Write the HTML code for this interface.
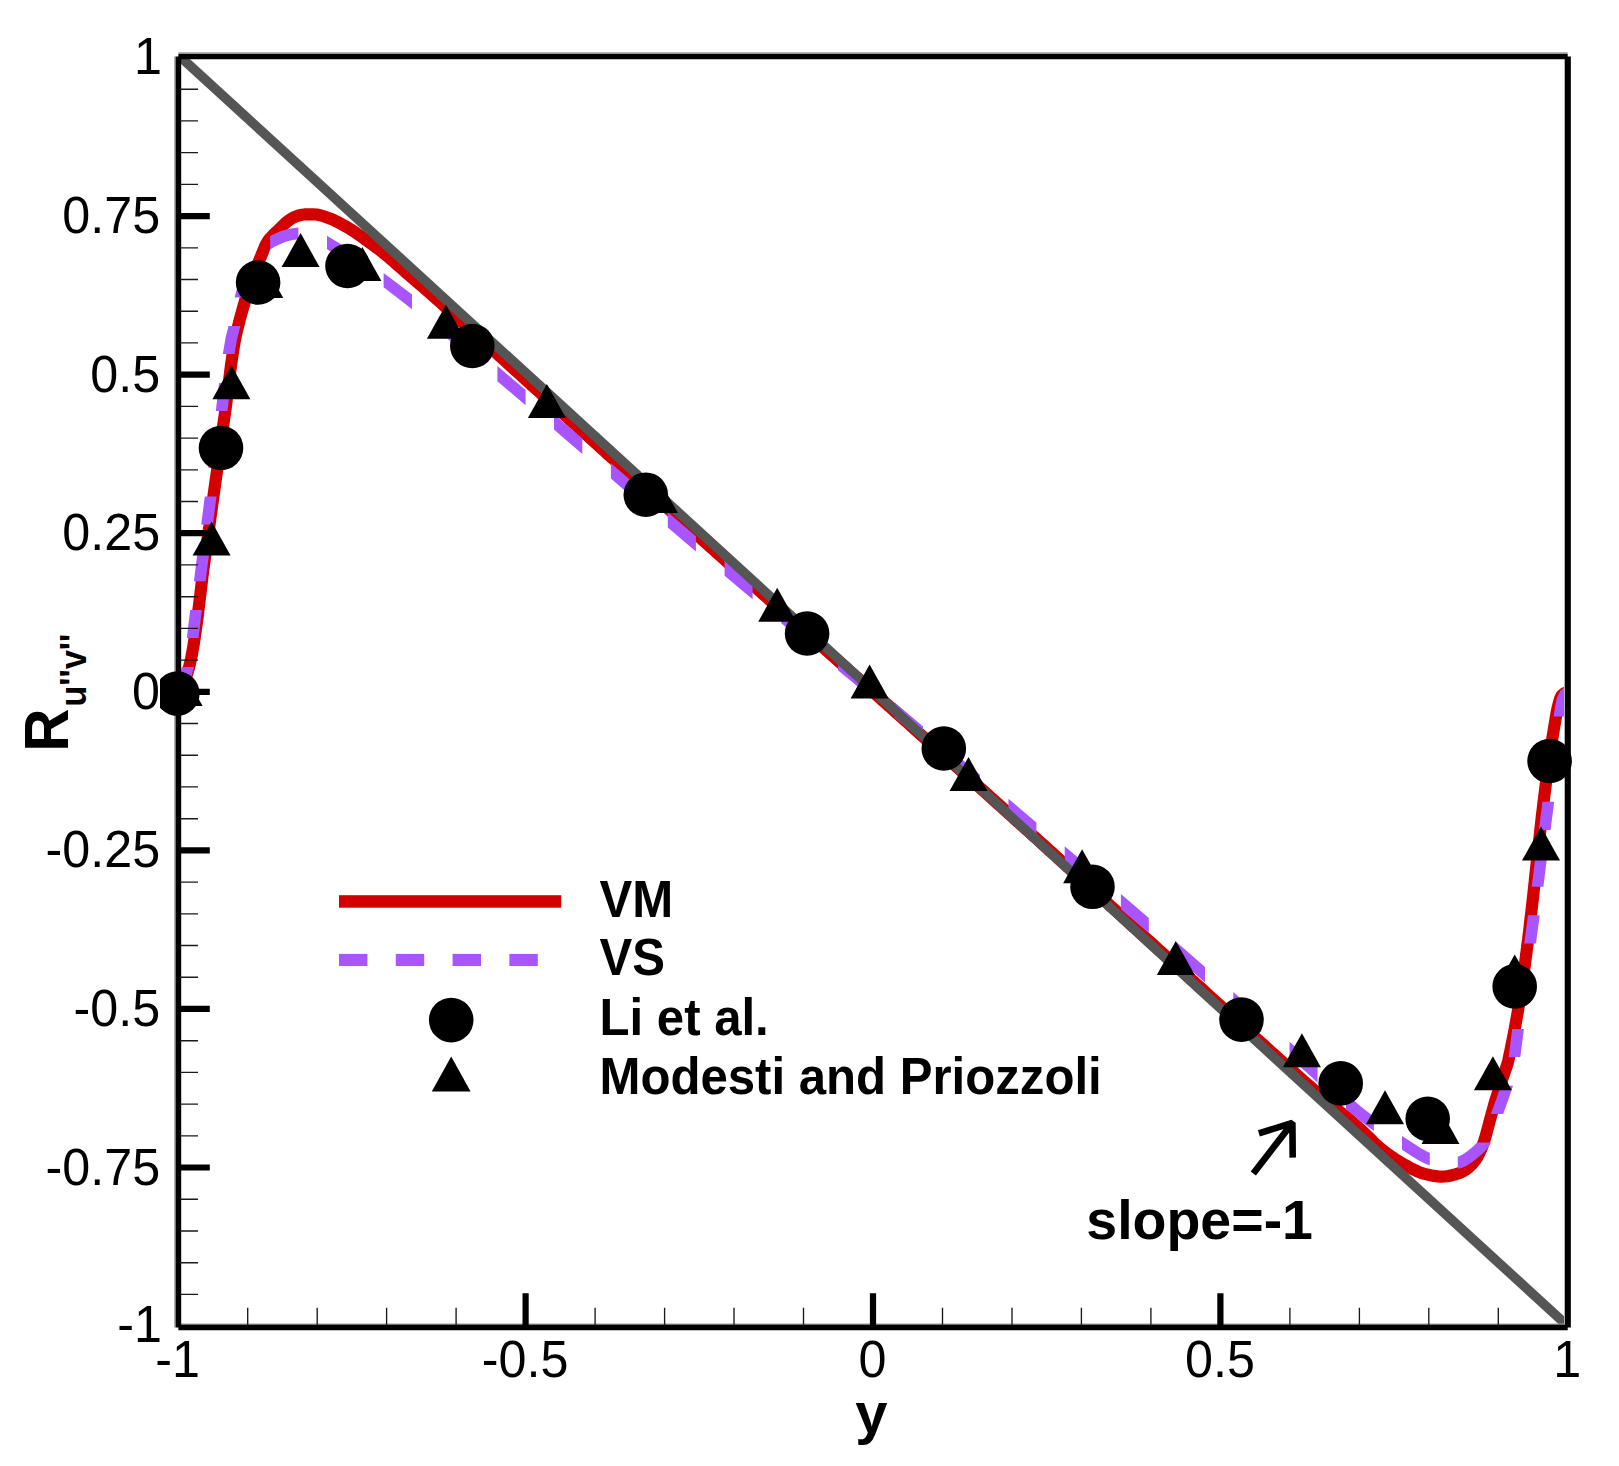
<!DOCTYPE html>
<html lang="en"><head><meta charset="utf-8"><title>R u''v'' vs y</title>
<style>html,body{margin:0;padding:0;background:#fff;overflow:hidden}svg{display:block}text{font-family:"Liberation Sans",Arial,Helvetica,sans-serif;fill:#000}.b{font-weight:700}</style></head><body>
<svg width="1619" height="1466" viewBox="0 0 1619 1466">
<rect width="1619" height="1466" fill="#fff"/>
<defs><clipPath id="m"><rect x="159.9" y="0" width="1500" height="1466"/></clipPath><clipPath id="c"><rect x="178.4" y="56.5" width="1389.2" height="1271"/></clipPath></defs>
<g clip-path="url(#c)">
<path d="M178.3 691.8 L180.9 689.1 L182.9 686.2 L184.3 683 L185.4 679.5 L186.4 676 L187.5 672.5 L188.5 669 L189.5 665.5 L190.3 662 L191.1 658.5 L191.8 655 L192.4 651.4 L193.1 647.9 L193.7 644.3 L194.2 640.8 L194.8 637.2 L195.3 633.6 L195.8 630.1 L196.3 626.5 L196.8 622.9 L197.3 619.3 L197.8 615.7 L198.2 612.1 L198.6 608.5 L199.1 604.9 L199.5 601.3 L199.9 597.7 L200.4 594.1 L200.8 590.5 L201.2 586.9 L201.6 583.3 L202.1 579.7 L202.5 576.1 L203 572.6 L203.4 569 L203.9 565.4 L204.4 561.8 L204.9 558.2 L205.4 554.6 L205.9 551 L206.4 547.5 L206.9 543.9 L207.4 540.3 L207.9 536.7 L208.4 533.1 L208.9 529.6 L209.4 526 L209.8 522.4 L210.3 518.8 L210.8 515.2 L211.3 511.7 L211.8 508.1 L212.3 504.5 L212.8 500.9 L213.3 497.3 L213.8 493.7 L214.3 490.2 L214.8 486.6 L215.3 483 L215.8 479.4 L216.3 475.8 L216.8 472.3 L217.3 468.7 L217.8 465.1 L218.3 461.5 L218.8 457.9 L219.3 454.4 L219.8 450.8 L220.3 447.2 L220.8 443.6 L221.3 440 L221.8 436.5 L222.3 432.9 L222.7 429.3 L223.2 425.7 L223.7 422.1 L224.2 418.5 L224.7 415 L225.2 411.4 L225.7 407.8 L226.2 404.2 L226.6 400.6 L227.1 397 L227.5 393.4 L227.9 389.8 L228.4 386.2 L228.8 382.6 L229.3 379.1 L229.7 375.5 L230.2 371.9 L230.6 368.3 L231.1 364.7 L231.6 361.1 L232.1 357.5 L232.7 354 L233.2 350.4 L233.8 346.8 L234.4 343.3 L235 339.7 L235.7 336.2 L236.5 332.7 L237.4 329.2 L238.3 325.6 L239.2 322.1 L240 318.6 L241 315.1 L241.9 311.7 L242.9 308.2 L243.9 304.7 L244.9 301.2 L245.9 297.8 L247 294.3 L248.1 290.8 L249.2 287.4 L250.3 284 L251.5 280.6 L252.7 277.2 L254 273.8 L255.3 270.4 L256.6 267 L258 263.7 L259.3 260.3 L260.7 257 L262.1 253.6 L263.4 250.2 L264.8 246.8 L266.4 243.6 L268.2 240.6 L270.4 237.9 L273 235.2 L275.6 232.7 L278.3 230.2 L280.9 227.6 L283.5 225 L286.1 222.5 L288.9 220.3 L291.9 218.4 L295.2 216.7 L298.6 215.5 L302.1 214.7 L305.7 214.3 L309.4 214.3 L313 214.4 L316.5 214.5 L320.1 215.2 L323.6 216.3 L327.1 217.5 L330.4 218.7 L333.8 220.1 L337 221.7 L340.2 223.4 L343.4 225.1 L346.6 226.9 L349.7 228.8 L352.7 230.7 L355.8 232.7 L358.7 234.7 L361.7 236.8 L364.6 239 L367.5 241.1 L370.5 243.2 L373.4 245.3 L376.3 247.5 L379.2 249.6 L382 251.9 L384.8 254.1 L387.6 256.4 L390.4 258.7 L393.2 261.1 L395.8 263.5 L398.5 265.9 L401.2 268.3 L404 270.7 L406.7 273.1 L409.4 275.4 L412.2 277.8 L414.9 280.1 L417.7 282.5 L420.4 284.8 L423.2 287.2 L425.9 289.6 L428.6 292 L431.3 294.3 L434 296.7 L436.7 299.1 L439.4 301.5 L442.1 303.9 L444.8 306.4 L447.5 308.8 L450.2 311.2 L452.9 313.6 L455.6 316 L458.3 318.5 L460.9 320.9 L463.6 323.3 L466.3 325.7 L469 328.2 L471.7 330.6 L474.4 333 L477 335.4 L479.7 337.9 L482.4 340.3 L485.1 342.7 L487.7 345.1 L490.4 347.6 L493.1 350 L495.8 352.4 L498.5 354.9 L501.1 357.3 L503.8 359.7 L506.5 362.2 L509.2 364.6 L511.8 367 L514.5 369.5 L517.2 371.9 L519.9 374.3 L522.5 376.7 L525.2 379.2 L527.9 381.6 L530.6 384 L533.2 386.5 L535.9 388.9 L538.6 391.3 L541.3 393.8 L544 396.2 L546.6 398.6 L549.3 401 L552 403.5 L554.7 405.9 L557.3 408.3 L560 410.8 L562.7 413.2 L565.4 415.6 L568.1 418 L570.7 420.5 L573.4 422.9 L576.1 425.3 L578.8 427.8 L581.4 430.2 L584.1 432.6 L586.8 435 L589.5 437.5 L592.2 439.9 L594.8 442.3 L597.5 444.7 L600.2 447.2 L602.9 449.6 L605.6 452 L608.2 454.5 L610.9 456.9 L613.6 459.3 L616.3 461.7 L618.9 464.2 L621.6 466.6 L624.3 469 L627 471.5 L629.7 473.9 L632.3 476.3 L635 478.7 L637.7 481.2 L640.4 483.6 L643.1 486 L645.7 488.4 L648.4 490.9 L651.1 493.3 L653.8 495.7 L656.5 498.2 L659.1 500.6 L661.8 503 L664.5 505.4 L667.2 507.9 L669.9 510.3 L672.5 512.7 L675.2 515.1 L677.9 517.6 L680.6 520 L683.3 522.4 L685.9 524.8 L688.6 527.3 L691.3 529.7 L694 532.1 L696.7 534.5 L699.4 536.9 L702.1 539.4 L704.7 541.8 L707.4 544.2 L710.1 546.6 L712.8 549 L715.5 551.5 L718.2 553.9 L720.9 556.3 L723.6 558.7 L726.3 561.1 L728.9 563.5 L731.6 565.9 L734.3 568.4 L737 570.8 L739.7 573.2 L742.4 575.6 L745.1 578 L747.8 580.4 L750.5 582.8 L753.2 585.2 L755.9 587.6 L758.6 590 L761.3 592.4 L764 594.9 L766.7 597.3 L769.4 599.7 L772.1 602.1 L774.8 604.5 L777.5 606.9 L780.2 609.3 L782.9 611.7 L785.6 614.1 L788.3 616.5 L791 618.9 L793.7 621.3 L796.4 623.7 L799.1 626.1 L801.8 628.5 L804.5 630.9 L807.2 633.3 L809.9 635.7 L812.6 638.1 L815.3 640.5 L818 642.9 L820.7 645.3 L823.4 647.7 L826.1 650.1 L828.8 652.5 L831.5 654.9 L834.2 657.3 L836.9 659.7 L839.6 662.1 L842.3 664.5 L845 666.9 L847.7 669.3 L850.4 671.7 L853.1 674.1 L855.8 676.5 L858.5 678.9 L861.2 681.3 L864 683.7 L866.7 686.1 L869.4 688.5 L872 691 L874.7 693.4 L877.4 695.8 L880.1 698.2 L882.8 700.6 L885.5 703 L888.2 705.4 L890.9 707.8 L893.6 710.2 L896.3 712.6 L899 715.1 L901.7 717.5 L904.4 719.9 L907.1 722.3 L909.8 724.7 L912.5 727.1 L915.1 729.5 L917.8 731.9 L920.5 734.4 L923.2 736.8 L925.9 739.2 L928.6 741.6 L931.3 744 L934 746.4 L936.7 748.9 L939.4 751.3 L942 753.7 L944.7 756.1 L947.4 758.5 L950.1 760.9 L952.8 763.3 L955.5 765.8 L958.2 768.2 L960.9 770.6 L963.6 773 L966.3 775.4 L968.9 777.8 L971.6 780.3 L974.3 782.7 L977 785.1 L979.7 787.5 L982.4 789.9 L985.1 792.3 L987.8 794.8 L990.5 797.2 L993.2 799.6 L995.8 802 L998.5 804.4 L1001.2 806.8 L1003.9 809.3 L1006.6 811.7 L1009.3 814.1 L1012 816.5 L1014.6 818.9 L1017.3 821.4 L1020 823.8 L1022.7 826.2 L1025.4 828.6 L1028.1 831 L1030.8 833.5 L1033.4 835.9 L1036.1 838.3 L1038.8 840.7 L1041.5 843.2 L1044.2 845.6 L1046.8 848 L1049.5 850.5 L1052.2 852.9 L1054.9 855.3 L1057.5 857.7 L1060.2 860.2 L1062.9 862.6 L1065.6 865 L1068.2 867.5 L1070.9 869.9 L1073.6 872.3 L1076.3 874.8 L1078.9 877.2 L1081.6 879.6 L1084.3 882.1 L1087 884.5 L1089.6 886.9 L1092.3 889.4 L1095 891.8 L1097.7 894.2 L1100.3 896.7 L1103 899.1 L1105.7 901.5 L1108.4 904 L1111 906.4 L1113.7 908.8 L1116.4 911.3 L1119.1 913.7 L1121.7 916.1 L1124.4 918.6 L1127.1 921 L1129.7 923.4 L1132.4 925.9 L1135.1 928.3 L1137.8 930.7 L1140.4 933.2 L1143.1 935.6 L1145.8 938 L1148.5 940.5 L1151.2 942.9 L1153.8 945.3 L1156.5 947.7 L1159.2 950.2 L1161.9 952.6 L1164.5 955 L1167.2 957.5 L1169.9 959.9 L1172.6 962.3 L1175.2 964.8 L1177.9 967.2 L1180.6 969.6 L1183.3 972.1 L1185.9 974.5 L1188.6 976.9 L1191.3 979.4 L1194 981.8 L1196.6 984.2 L1199.3 986.6 L1202 989.1 L1204.7 991.5 L1207.3 993.9 L1210 996.4 L1212.7 998.8 L1215.4 1001.2 L1218.1 1003.7 L1220.7 1006.1 L1223.4 1008.5 L1226.1 1010.9 L1228.8 1013.4 L1231.4 1015.8 L1234.1 1018.2 L1236.8 1020.7 L1239.5 1023.1 L1242.1 1025.5 L1244.8 1028 L1247.5 1030.4 L1250.2 1032.8 L1252.9 1035.2 L1255.5 1037.7 L1258.2 1040.1 L1260.9 1042.5 L1263.6 1044.9 L1266.3 1047.4 L1268.9 1049.8 L1271.6 1052.2 L1274.3 1054.6 L1277 1057 L1279.7 1059.5 L1282.4 1061.9 L1285.1 1064.3 L1287.8 1066.7 L1290.5 1069.1 L1293.2 1071.5 L1295.8 1074 L1298.5 1076.4 L1301.2 1078.8 L1303.9 1081.2 L1306.7 1083.6 L1309.4 1085.9 L1312.1 1088.3 L1314.8 1090.7 L1317.5 1093.1 L1320.3 1095.4 L1323.1 1097.7 L1325.8 1100.1 L1328.6 1102.4 L1331.4 1104.7 L1334.2 1107 L1337 1109.3 L1339.8 1111.6 L1342.6 1113.9 L1345.4 1116.2 L1348.1 1118.5 L1350.9 1120.8 L1353.6 1123.2 L1356.4 1125.6 L1359.1 1128 L1361.7 1130.4 L1364.3 1132.9 L1366.9 1135.5 L1369.5 1138 L1372 1140.6 L1374.6 1143.2 L1377.3 1145.6 L1380 1148 L1382.7 1150.2 L1385.6 1152.4 L1388.5 1154.6 L1391.5 1156.7 L1394.5 1158.7 L1397.6 1160.6 L1400.7 1162.5 L1403.8 1164.3 L1407 1166 L1410.2 1167.8 L1413.5 1169.5 L1416.8 1171.1 L1420.1 1172.5 L1423.5 1173.6 L1426.9 1174.4 L1430.5 1175.2 L1434.1 1175.9 L1437.7 1176.4 L1441.3 1176.6 L1444.9 1176.5 L1448.5 1176 L1452.1 1175.2 L1455.6 1174.3 L1459 1173.2 L1462.3 1171.7 L1465.5 1169.8 L1468.4 1167.6 L1471 1165.3 L1473.4 1162.5 L1475.7 1159.6 L1477.6 1156.5 L1479.3 1153.4 L1480.8 1150.1 L1482.2 1146.7 L1483.4 1143.3 L1484.5 1139.8 L1485.6 1136.4 L1486.5 1132.9 L1487.5 1129.4 L1488.4 1125.9 L1489.3 1122.4 L1490.3 1118.9 L1491.2 1115.4 L1492.2 1111.9 L1493.1 1108.5 L1494.1 1105 L1495.1 1101.5 L1496.2 1098.1 L1497.3 1094.6 L1498.4 1091.2 L1499.5 1087.7 L1500.6 1084.3 L1501.7 1080.8 L1502.8 1077.4 L1504 1074 L1505.2 1070.5 L1506.4 1067.1 L1507.5 1063.7 L1508.4 1060.2 L1509.1 1056.7 L1509.9 1053.2 L1510.6 1049.7 L1511.3 1046.2 L1512 1042.7 L1512.7 1039.2 L1513.4 1035.7 L1514.1 1032.1 L1514.8 1028.6 L1515.4 1025.1 L1516 1021.6 L1516.7 1018 L1517.3 1014.5 L1517.9 1010.9 L1518.5 1007.4 L1519.1 1003.9 L1519.6 1000.3 L1520.2 996.7 L1520.7 993.2 L1521.3 989.6 L1521.8 986.1 L1522.3 982.5 L1522.9 978.9 L1523.4 975.4 L1523.9 971.8 L1524.4 968.2 L1524.9 964.6 L1525.3 961.1 L1525.8 957.5 L1526.3 953.9 L1526.7 950.3 L1527.2 946.7 L1527.6 943.1 L1528.1 939.5 L1528.5 935.9 L1529 932.3 L1529.4 928.7 L1529.8 925.1 L1530.2 921.5 L1530.6 917.9 L1531.1 914.3 L1531.5 910.7 L1531.9 907.1 L1532.3 903.5 L1532.7 899.9 L1533.1 896.3 L1533.5 892.7 L1533.9 889.1 L1534.3 885.5 L1534.7 881.9 L1535 878.2 L1535.4 874.6 L1535.8 871 L1536.2 867.4 L1536.6 863.8 L1537 860.2 L1537.4 856.6 L1537.8 852.9 L1538.2 849.3 L1538.6 845.7 L1539 842.1 L1539.4 838.5 L1539.8 834.9 L1540.2 831.3 L1540.6 827.7 L1541 824.1 L1541.4 820.4 L1541.8 816.8 L1542.2 813.2 L1542.7 809.6 L1543.1 806 L1543.5 802.4 L1544 798.8 L1544.4 795.2 L1544.9 791.6 L1545.3 788 L1545.8 784.4 L1546.2 780.8 L1546.7 777.2 L1547.2 773.6 L1547.7 770 L1548.2 766.4 L1548.7 762.9 L1549.2 759.3 L1549.7 755.7 L1550.2 752.1 L1550.8 748.5 L1551.3 744.9 L1551.9 741.4 L1552.4 737.8 L1553 734.2 L1553.6 730.7 L1554.2 727.1 L1554.8 723.5 L1555.4 719.9 L1556 716.4 L1556.6 712.8 L1557.3 709.3 L1558.1 705.8 L1559.1 702.2 L1560.2 698.5 L1561.7 695.4 L1564.2 693.3 L1567.8 691.8" fill="none" stroke="#d40000" stroke-width="12.2" stroke-linejoin="round"/>
<path d="M175.8 685.8 L173.9 688 L182.7 695.6 L185.4 692.4 L188 688 L189.3 684.2 L194 667 L181.9 667 L178.2 681 L177.2 683.5Z M198.5 638 L201.9 610.1 L190.2 610.1 L186.8 638.1Z M205.6 581.3 L209.1 553.3 L197.4 553.3 L193.9 581.3Z M212.9 524.5 L216.5 496.5 L204.8 496.5 L201.2 524.5Z M220.2 467.7 L223.8 439.7 L212.1 439.7 L208.5 467.7Z M227.5 410.9 L230.8 382.9 L219.1 382.9 L215.8 410.9Z M234.5 354 L237.1 339.1 L240.5 326 L228.5 326 L225.7 336.9 L222.8 354.1Z M246.6 297.3 L250.6 284.7 L256.4 269.2 L244 269.2 L239.6 280.9 L236.3 291.1 L234.6 297.4Z M270.2 249.4 L274.1 247.1 L283.2 242.8 L286.1 241.7 L292.5 240 L298.4 239.2 L298.4 227.6 L293.9 228 L290.1 228.7 L282.7 230.6 L278.6 232.1 L270.1 236.1Z M327 249.3 L337 255.6 L355.2 267.6 L355.2 253.7 L340.1 243.8 L327 235.8Z M383.6 287.3 L397.6 298 L412 309.3 L412 294.5 L396.3 282.4 L383.6 273Z M440.5 332.8 L452.6 342.9 L468.7 356.7 L468.7 341.4 L440.4 317.6Z M497.4 381.2 L511.9 393.6 L525.6 405.2 L525.6 390 L497.4 366Z M554 429.6 L560.5 435.2 L582.3 453.9 L582.3 438.6 L554 414.3Z M610.9 478.5 L619.8 486.2 L639.1 502.9 L639.1 487.5 L610.9 463.2Z M667.8 527.5 L681.8 539.5 L695.9 551.5 L695.9 536.3 L667.8 512.2Z M724.6 575.8 L738.8 587.7 L752.6 599.3 L752.6 584.2 L724.5 560.5Z M781.3 623.3 L795.9 635.5 L809.5 646.7 L809.5 631.6 L781.2 608.1Z M838.2 670.4 L853.5 683.1 L866.3 693.7 L866.3 678.6 L838.2 655.4Z M894.9 717.8 L907.9 728.8 L923.1 741.6 L923.1 726.4 L894.8 702.5Z M951.8 765.9 L964.8 776.9 L979.9 789.8 L979.9 774.6 L951.7 750.7Z M1008.4 813.9 L1016.4 820.7 L1036.4 837.6 L1036.4 822.4 L1008.4 798.7Z M1064.7 861.6 L1081.5 875.8 L1092.5 885.1 L1092.5 869.9 L1064.7 846.3Z M1120.9 909.3 L1135.5 921.8 L1148.8 933.3 L1148.8 917.9 L1120.9 894Z M1177.2 958.1 L1189.2 968.6 L1205 982.6 L1205 967.1 L1177 942.5Z M1233.4 1007.7 L1245 1017.9 L1261.2 1032.2 L1261.2 1016.8 L1233.3 992.1Z M1289.6 1057.3 L1308.8 1074.4 L1317.5 1082.4 L1317.5 1066.6 L1289.5 1041.7Z M1346 1109 L1359.1 1120 L1373.9 1131 L1373.9 1116.7 L1360.8 1106.4 L1345.9 1093.3Z M1402 1149.8 L1412.3 1156.6 L1418.8 1160.4 L1425.4 1163.7 L1429.8 1165.5 L1429.8 1153 L1421.4 1148.5 L1402 1136Z M1457.9 1168.8 L1460.5 1168.2 L1463.9 1166.9 L1467.8 1164.9 L1471.6 1162.5 L1477.4 1158.1 L1483.2 1153 L1486.1 1149.9 L1488.9 1146.3 L1491.1 1142.6 L1477.1 1142.6 L1472.9 1146.8 L1467.6 1151 L1462.2 1154.8 L1459.7 1156.1 L1457.7 1156.8Z M1503.2 1114.1 L1508.5 1099.3 L1513 1085.8 L1500.8 1085.8 L1496.3 1099 L1490.8 1114.1Z M1520.3 1057.1 L1523.9 1029 L1512.2 1029 L1508.6 1057.3Z M1528 1000.3 L1532 972.3 L1520.2 972.3 L1516.2 1000.3Z M1536 943.6 L1539.7 915.3 L1528 915.3 L1524.3 943.6Z M1543.4 886.8 L1546.9 858.5 L1535.2 858.5 L1531.7 886.8Z M1550.6 830 L1554.2 801.7 L1542.5 801.7 L1538.9 830Z M1557.9 773.2 L1561.7 745 L1550 745 L1546.2 773.2Z M1565.2 716.4 L1566.5 708.6 L1567.9 702.2 L1568.8 699.5 L1569.7 697.9 L1571.6 696.2 L1564 687.4 L1560.6 690.6 L1558 695.3 L1556.7 699.1 L1555.8 703 L1553.5 716.4Z" fill="#a855ff"/>
<line x1="168.4" y1="45.9" x2="1577.7" y2="1335.1" stroke="#555" stroke-width="9.6"/>
</g>
<g stroke="#000" fill="none">
<path d="M178.4 53.1H1567.7 M178.4 1324.3H1567.7 M175.1 56.5V1327.5" stroke="#999" stroke-width="1.8"/>
<path d="M1564.6 56.5V1327.5" stroke="#bbb" stroke-width="1.2"/>
<path d="M178.4 56.6H1567.7 M178.4 1327.5H1567.7 M178.5 56.5V1327.5" stroke-width="5.4"/>
<path d="M1567.9 56.5V1327.5" stroke-width="5.9"/>
<path d="M180 1167.5H209.8 M180 1008.9H209.8 M180 850.4H209.8 M180 691.8H209.8 M180 533.2H209.8 M180 374.6H209.8 M180 216.1H209.8 M525.6 1326V1293.3 M873 1326V1293.3 M1220.4 1326V1293.3" stroke-width="6.2"/>
<path d="M180 1294.4H198 M180 1262.7H198 M180 1231H198 M180 1199.2H198 M180 1135.8H198 M180 1104.1H198 M180 1072.4H198 M180 1040.7H198 M180 977.2H198 M180 945.5H198 M180 913.8H198 M180 882.1H198 M180 818.7H198 M180 786.9H198 M180 755.2H198 M180 723.5H198 M180 660.1H198 M180 628.4H198 M180 596.7H198 M180 564.9H198 M180 501.5H198 M180 469.8H198 M180 438.1H198 M180 406.4H198 M180 342.9H198 M180 311.2H198 M180 279.5H198 M180 247.8H198 M180 184.4H198 M180 152.6H198 M180 120.9H198 M180 89.2H198 M247.7 1326V1307.8 M317.2 1326V1307.8 M386.6 1326V1307.8 M456.1 1326V1307.8 M595.1 1326V1307.8 M664.6 1326V1307.8 M734 1326V1307.8 M803.5 1326V1307.8 M942.5 1326V1307.8 M1012 1326V1307.8 M1081.4 1326V1307.8 M1150.9 1326V1307.8 M1289.9 1326V1307.8 M1359.4 1326V1307.8 M1428.8 1326V1307.8 M1498.3 1326V1307.8" stroke="#1a1a1a" stroke-width="1.35"/>
</g>
<g fill="#000" clip-path="url(#m)">
<path d="M183.6 672l19 34h-38z"/>
<path d="M211.6 521.5l19 34h-38z"/>
<path d="M231.4 365.3l19 34h-38z"/>
<path d="M264.3 264l19 34h-38z"/>
<path d="M300.6 233.1l19 34h-38z"/>
<path d="M362.4 247l19 34h-38z"/>
<path d="M445.9 304.8l19 34h-38z"/>
<path d="M546.9 384l19 34h-38z"/>
<path d="M658.9 479l19 34h-38z"/>
<path d="M777.2 587.8l19 34h-38z"/>
<path d="M869.6 664.5l19 34h-38z"/>
<path d="M968.5 757.1l19 34h-38z"/>
<path d="M1082.1 849.3l19 34h-38z"/>
<path d="M1175.8 941l19 34h-38z"/>
<path d="M1301.9 1033.2l19 34h-38z"/>
<path d="M1385 1090.2l19 34h-38z"/>
<path d="M1440.5 1110l19 34h-38z"/>
<path d="M1492.9 1056.3l19 34h-38z"/>
<path d="M1514.7 954.4l19 34h-38z"/>
<path d="M1541 826.5l19 34h-38z"/>
<circle cx="177.3" cy="693.6" r="22.3"/>
<circle cx="221" cy="448" r="22.3"/>
<circle cx="258.1" cy="282.5" r="22.3"/>
<circle cx="347.5" cy="266" r="22.3"/>
<circle cx="472.3" cy="346" r="22.3"/>
<circle cx="645.8" cy="494.7" r="22.3"/>
<circle cx="807.1" cy="633.5" r="22.3"/>
<circle cx="943.8" cy="748.5" r="22.3"/>
<circle cx="1092.5" cy="886.8" r="22.3"/>
<circle cx="1241.5" cy="1019.6" r="22.3"/>
<circle cx="1340.7" cy="1083.4" r="22.3"/>
<circle cx="1427.7" cy="1118.8" r="22.3"/>
<circle cx="1514.7" cy="986.4" r="22.3"/>
<circle cx="1549.6" cy="761" r="22.3"/>
</g>
<rect x="339" y="895.2" width="222.2" height="12.5" fill="#d40000"/>
<rect x="339" y="953.9" width="28.4" height="12.1" fill="#a855ff"/>
<rect x="395.8" y="953.9" width="28.4" height="12.1" fill="#a855ff"/>
<rect x="452.6" y="953.9" width="28.4" height="12.1" fill="#a855ff"/>
<rect x="509.4" y="953.9" width="28.4" height="12.1" fill="#a855ff"/>
<circle cx="451.2" cy="1020.1" r="22.3"/>
<path d="M451.2 1056.4l19.4 35.1h-38.8z"/>
<g class="b" font-size="49.15">
<text transform="translate(599.5 916.5) scale(1 1.07)">VM</text>
<text transform="translate(599.5 974.7) scale(1 1.07)">VS</text>
<text transform="translate(599.5 1035.2) scale(1 1.07)">Li et al.</text>
<text transform="translate(599.5 1093.9) scale(1 1.07)">Modesti and Priozzoli</text>
</g>
<g font-size="50.3">
<text transform="translate(162 73.8) scale(1 1.015)" text-anchor="end">1</text>
<text transform="translate(160.1 233.1) scale(1 1.015)" text-anchor="end">0.75</text>
<text transform="translate(160.1 391.6) scale(1 1.015)" text-anchor="end">0.5</text>
<text transform="translate(160.1 550.2) scale(1 1.015)" text-anchor="end">0.25</text>
<text transform="translate(160.1 708.8) scale(1 1.015)" text-anchor="end">0</text>
<text transform="translate(160.1 867.4) scale(1 1.015)" text-anchor="end">-0.25</text>
<text transform="translate(160.1 1025.9) scale(1 1.015)" text-anchor="end">-0.5</text>
<text transform="translate(160.1 1184.5) scale(1 1.015)" text-anchor="end">-0.75</text>
<text transform="translate(162 1342.4) scale(1 1.015)" text-anchor="end">-1</text>
<text transform="translate(177.7 1377.2) scale(1 1.015)" text-anchor="middle">-1</text>
<text transform="translate(525.1 1377.2) scale(1 1.015)" text-anchor="middle">-0.5</text>
<text transform="translate(872.5 1377.2) scale(1 1.015)" text-anchor="middle">0</text>
<text transform="translate(1219.9 1377.2) scale(1 1.015)" text-anchor="middle">0.5</text>
<text transform="translate(1567.3 1377.2) scale(1 1.015)" text-anchor="middle">1</text>
</g>
<text class="b" x="871.4" y="1433.3" font-size="58" text-anchor="middle">y</text>
<text class="b" transform="translate(67.8 751.8) rotate(-90) scale(1 1.05)" font-size="60">R<tspan font-size="34.5" dx="1.7" dy="16.9">u''v''</tspan></text>
<text transform="translate(1086.3 1239.2) scale(1 0.985)" class="b" font-size="55.5">slope=-1</text>
<path d="M1253.3 1173.6L1292.4 1122.9M1258.9 1133.3L1292.4 1122.9L1292.7 1157.6" stroke="#000" stroke-width="6.6" fill="none" stroke-linejoin="bevel"/>
</svg></body></html>
